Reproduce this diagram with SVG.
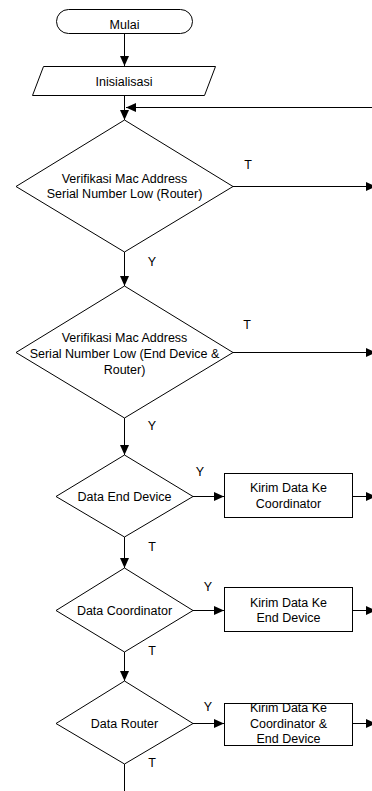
<svg xmlns="http://www.w3.org/2000/svg" width="372" height="791" viewBox="0 0 372 791">
  <defs>
    <marker id="arrow" markerUnits="userSpaceOnUse" markerWidth="11" markerHeight="10" refX="10" refY="4.5" orient="auto">
      <path d="M0,0 L10,4.5 L0,9 z" fill="#000"/>
    </marker>
    <style>
      .shape { fill: #fff; stroke: #000; stroke-width: 1; }
      .line { fill: none; stroke: #000; stroke-width: 1; }
      .arr { marker-end: url(#arrow); }
      text { font-family: "Liberation Sans", Arial, sans-serif; font-size: 12.5px; fill: #000; text-anchor: middle; }
    </style>
  </defs>
  <rect width="372" height="791" fill="#fff"/>

  <!-- connectors -->
  <g id="connectors">
    <line class="line arr" x1="124.5" y1="33" x2="124.5" y2="66"/>
    <line class="line arr" x1="124.5" y1="95" x2="124.5" y2="120"/>
    <line class="line arr" x1="372" y1="107.5" x2="126" y2="107.5"/>
    <line class="line arr" x1="233" y1="186.5" x2="376" y2="186.5"/>
    <line class="line arr" x1="124.5" y1="252" x2="124.5" y2="286"/>
    <line class="line arr" x1="233" y1="352.5" x2="376" y2="352.5"/>
    <line class="line arr" x1="124.5" y1="418" x2="124.5" y2="455"/>
    <line class="line arr" x1="193" y1="496.5" x2="224" y2="496.5"/>
    <line class="line arr" x1="353" y1="496.5" x2="376" y2="496.5"/>
    <line class="line arr" x1="124.5" y1="537" x2="124.5" y2="568"/>
    <line class="line arr" x1="193" y1="610.5" x2="224" y2="610.5"/>
    <line class="line arr" x1="353" y1="610.5" x2="376" y2="610.5"/>
    <line class="line arr" x1="124.5" y1="652" x2="124.5" y2="681"/>
    <line class="line arr" x1="193" y1="723.5" x2="224" y2="723.5"/>
    <line class="line arr" x1="353" y1="723.5" x2="376" y2="723.5"/>
    <line class="line" x1="124.5" y1="764" x2="124.5" y2="791"/>
    <!-- branch labels -->
    <text x="248" y="169">T</text>
    <text x="152" y="266">Y</text>
    <text x="247" y="328.5">T</text>
    <text x="152" y="429.5">Y</text>
    <text x="200" y="476">Y</text>
    <text x="152" y="551">T</text>
    <text x="208" y="590.5">Y</text>
    <text x="152" y="655">T</text>
    <text x="208" y="711">Y</text>
    <text x="152" y="767">T</text>
  </g>

  <g id="start">
    <rect class="shape" x="56.5" y="9.5" width="136" height="24" rx="12"/>
    <text x="124.5" y="28.5">Mulai</text>
  </g>

  <g id="init">
    <polygon class="shape" points="43.5,66.5 215.5,66.5 204.5,95.5 32.5,95.5"/>
    <text x="124" y="86">Inisialisasi</text>
  </g>

  <g id="verify-router">
    <polygon class="shape" points="124.5,120 233,186.5 124.5,252 16,186.5"/>
    <text x="124.5" y="182.5">Verifikasi Mac Address</text>
    <text x="124.5" y="197.5">Serial Number Low (Router)</text>
  </g>

  <g id="verify-enddevice-router">
    <polygon class="shape" points="124.5,286 233,352.5 124.5,418 16,352.5"/>
    <text x="124.5" y="341.5">Verifikasi Mac Address</text>
    <text x="124.5" y="357.5">Serial Number Low (End Device &amp;</text>
    <text x="124.5" y="373.5">Router)</text>
  </g>

  <g id="data-end-device">
    <polygon class="shape" points="124.5,455 193,496.5 124.5,537 56,496.5"/>
    <text x="124.5" y="500.5">Data End Device</text>
  </g>

  <g id="send-coordinator">
    <rect class="shape" x="224.5" y="473.5" width="128" height="44"/>
    <text x="288.5" y="491.5">Kirim Data Ke</text>
    <text x="288.5" y="507.5">Coordinator</text>
  </g>

  <g id="data-coordinator">
    <polygon class="shape" points="124.5,568 193,610.5 124.5,652 56,610.5"/>
    <text x="124.5" y="614.5">Data Coordinator</text>
  </g>

  <g id="send-end-device">
    <rect class="shape" x="224.5" y="587.5" width="128" height="44"/>
    <text x="288.5" y="606.5">Kirim Data Ke</text>
    <text x="288.5" y="621.5">End Device</text>
  </g>

  <g id="data-router">
    <polygon class="shape" points="124.5,681 193,723.5 124.5,764 56,723.5"/>
    <text x="124.5" y="727.5">Data Router</text>
  </g>

  <g id="send-coordinator-end-device">
    <rect class="shape" x="224.5" y="703.5" width="128" height="42"/>
    <text x="288.5" y="712">Kirim Data Ke</text>
    <text x="288.5" y="727.5">Coordinator &amp;</text>
    <text x="288.5" y="743">End Device</text>
  </g>
</svg>
